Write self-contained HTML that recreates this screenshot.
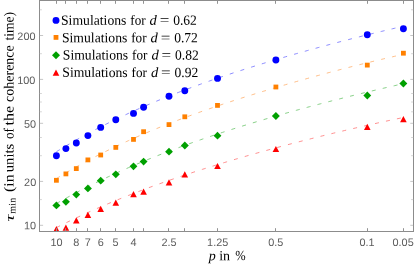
<!DOCTYPE html><html><head><title>Chart</title><meta charset="utf-8"><style>html,body{margin:0;padding:0;background:#fff}</style></head><body><svg width="415" height="267" viewBox="0 0 415 267" style="display:block;will-change:transform">
<rect width="415" height="267" fill="#fff"/>
<clipPath id="c"><rect x="39.5" y="0.5" width="374.0" height="231.0"/></clipPath>
<g clip-path="url(#c)">
<path d="M56.40 151.73 L58.58 150.39 L60.76 149.07 L62.95 147.75 L65.13 146.45 L67.31 145.17 L69.49 143.89 L71.68 142.63 L73.86 141.37 L76.04 140.13 L78.22 138.90 L80.41 137.68 L82.59 136.48 L84.77 135.28 L86.95 134.09 L89.14 132.92 L91.32 131.75 L93.50 130.60 L95.68 129.45 L97.87 128.32 L100.05 127.20 L102.23 126.08 L104.41 124.98 L106.59 123.88 L108.78 122.80 L110.96 121.72 L113.14 120.65 L115.32 119.59 L117.51 118.54 L119.69 117.50 L121.87 116.47 L124.05 115.45 L126.24 114.44 L128.42 113.43 L130.60 112.43 L132.78 111.44 L134.97 110.46 L137.15 109.49 L139.33 108.52 L141.51 107.56 L143.70 106.61 L145.88 105.67 L148.06 104.73 L150.24 103.80 L152.43 102.88 L154.61 101.97 L156.79 101.06 L158.97 100.16 L161.15 99.27 L163.34 98.38 L165.52 97.50 L167.70 96.62 L169.88 95.76 L172.07 94.89 L174.25 94.04 L176.43 93.19 L178.61 92.35 L180.80 91.51 L182.98 90.68 L185.16 89.85 L187.34 89.03 L189.53 88.22 L191.71 87.41 L193.89 86.60 L196.07 85.81 L198.26 85.01 L200.44 84.22 L202.62 83.44 L204.80 82.66 L206.98 81.89 L209.17 81.12 L211.35 80.36 L213.53 79.60 L215.71 78.85 L217.90 78.10 L220.08 77.35 L222.26 76.61 L224.44 75.87 L226.63 75.14 L228.81 74.41 L230.99 73.69 L233.17 72.97 L235.36 72.26 L237.54 71.54 L239.72 70.84 L241.90 70.13 L244.09 69.43 L246.27 68.74 L248.45 68.04 L250.63 67.36 L252.82 66.67 L255.00 65.99 L257.18 65.31 L259.36 64.64 L261.54 63.97 L263.73 63.30 L265.91 62.63 L268.09 61.97 L270.27 61.31 L272.46 60.66 L274.64 60.01 L276.82 59.36 L279.00 58.71 L281.19 58.07 L283.37 57.43 L285.55 56.79 L287.73 56.16 L289.92 55.53 L292.10 54.90 L294.28 54.27 L296.46 53.65 L298.65 53.03 L300.83 52.41 L303.01 51.80 L305.19 51.19 L307.37 50.58 L309.56 49.97 L311.74 49.37 L313.92 48.77 L316.10 48.17 L318.29 47.57 L320.47 46.98 L322.65 46.39 L324.83 45.80 L327.02 45.21 L329.20 44.63 L331.38 44.05 L333.56 43.47 L335.75 42.90 L337.93 42.32 L340.11 41.75 L342.29 41.18 L344.48 40.62 L346.66 40.05 L348.84 39.49 L351.02 38.93 L353.21 38.37 L355.39 37.82 L357.57 37.27 L359.75 36.72 L361.93 36.17 L364.12 35.63 L366.30 35.08 L368.48 34.55 L370.66 34.01 L372.85 33.47 L375.03 32.94 L377.21 32.41 L379.39 31.88 L381.58 31.36 L383.76 30.84 L385.94 30.32 L388.12 29.80 L390.31 29.29 L392.49 28.77 L394.67 28.26 L396.85 27.76 L399.04 27.25 L401.22 26.75 L403.40 26.25" fill="none" stroke="#5c5cff" stroke-width="0.7" stroke-dasharray="4 7.2"/>
<path d="M56.40 178.59 L58.58 177.26 L60.76 175.94 L62.95 174.63 L65.13 173.34 L67.31 172.05 L69.49 170.78 L71.68 169.53 L73.86 168.28 L76.04 167.05 L78.22 165.83 L80.41 164.62 L82.59 163.42 L84.77 162.24 L86.95 161.06 L89.14 159.90 L91.32 158.75 L93.50 157.60 L95.68 156.47 L97.87 155.35 L100.05 154.24 L102.23 153.14 L104.41 152.05 L106.59 150.97 L108.78 149.90 L110.96 148.83 L113.14 147.78 L115.32 146.74 L117.51 145.71 L119.69 144.68 L121.87 143.66 L124.05 142.66 L126.24 141.66 L128.42 140.67 L130.60 139.68 L132.78 138.71 L134.97 137.74 L137.15 136.79 L139.33 135.84 L141.51 134.89 L143.70 133.96 L145.88 133.03 L148.06 132.11 L150.24 131.20 L152.43 130.29 L154.61 129.39 L156.79 128.50 L158.97 127.61 L161.15 126.73 L163.34 125.86 L165.52 124.99 L167.70 124.13 L169.88 123.28 L172.07 122.43 L174.25 121.59 L176.43 120.76 L178.61 119.93 L180.80 119.10 L182.98 118.28 L185.16 117.47 L187.34 116.66 L189.53 115.86 L191.71 115.06 L193.89 114.27 L196.07 113.48 L198.26 112.70 L200.44 111.92 L202.62 111.15 L204.80 110.38 L206.98 109.62 L209.17 108.86 L211.35 108.11 L213.53 107.36 L215.71 106.61 L217.90 105.87 L220.08 105.13 L222.26 104.40 L224.44 103.67 L226.63 102.95 L228.81 102.23 L230.99 101.51 L233.17 100.79 L235.36 100.09 L237.54 99.38 L239.72 98.68 L241.90 97.98 L244.09 97.28 L246.27 96.59 L248.45 95.90 L250.63 95.22 L252.82 94.54 L255.00 93.86 L257.18 93.18 L259.36 92.51 L261.54 91.84 L263.73 91.18 L265.91 90.52 L268.09 89.86 L270.27 89.20 L272.46 88.55 L274.64 87.90 L276.82 87.25 L279.00 86.60 L281.19 85.96 L283.37 85.32 L285.55 84.69 L287.73 84.05 L289.92 83.42 L292.10 82.79 L294.28 82.17 L296.46 81.54 L298.65 80.92 L300.83 80.31 L303.01 79.69 L305.19 79.08 L307.37 78.47 L309.56 77.86 L311.74 77.26 L313.92 76.66 L316.10 76.06 L318.29 75.46 L320.47 74.87 L322.65 74.27 L324.83 73.69 L327.02 73.10 L329.20 72.52 L331.38 71.94 L333.56 71.36 L335.75 70.78 L337.93 70.21 L340.11 69.64 L342.29 69.07 L344.48 68.50 L346.66 67.94 L348.84 67.38 L351.02 66.82 L353.21 66.27 L355.39 65.72 L357.57 65.17 L359.75 64.62 L361.93 64.08 L364.12 63.54 L366.30 63.00 L368.48 62.47 L370.66 61.94 L372.85 61.41 L375.03 60.89 L377.21 60.36 L379.39 59.84 L381.58 59.33 L383.76 58.82 L385.94 58.31 L388.12 57.80 L390.31 57.30 L392.49 56.80 L394.67 56.30 L396.85 55.81 L399.04 55.32 L401.22 54.84 L403.40 54.35" fill="none" stroke="#ffa458" stroke-width="0.7" stroke-dasharray="4 7.2"/>
<path d="M56.40 203.55 L58.58 202.31 L60.76 201.09 L62.95 199.87 L65.13 198.67 L67.31 197.47 L69.49 196.29 L71.68 195.11 L73.86 193.95 L76.04 192.79 L78.22 191.65 L80.41 190.51 L82.59 189.38 L84.77 188.27 L86.95 187.16 L89.14 186.06 L91.32 184.97 L93.50 183.89 L95.68 182.82 L97.87 181.75 L100.05 180.70 L102.23 179.65 L104.41 178.61 L106.59 177.58 L108.78 176.56 L110.96 175.55 L113.14 174.54 L115.32 173.54 L117.51 172.55 L119.69 171.57 L121.87 170.59 L124.05 169.63 L126.24 168.67 L128.42 167.71 L130.60 166.77 L132.78 165.83 L134.97 164.90 L137.15 163.97 L139.33 163.06 L141.51 162.15 L143.70 161.24 L145.88 160.34 L148.06 159.45 L150.24 158.57 L152.43 157.69 L154.61 156.82 L156.79 155.95 L158.97 155.09 L161.15 154.24 L163.34 153.39 L165.52 152.55 L167.70 151.71 L169.88 150.88 L172.07 150.06 L174.25 149.24 L176.43 148.42 L178.61 147.61 L180.80 146.81 L182.98 146.01 L185.16 145.22 L187.34 144.43 L189.53 143.65 L191.71 142.87 L193.89 142.10 L196.07 141.33 L198.26 140.57 L200.44 139.81 L202.62 139.06 L204.80 138.31 L206.98 137.56 L209.17 136.82 L211.35 136.09 L213.53 135.35 L215.71 134.63 L217.90 133.90 L220.08 133.19 L222.26 132.47 L224.44 131.76 L226.63 131.05 L228.81 130.35 L230.99 129.65 L233.17 128.96 L235.36 128.27 L237.54 127.58 L239.72 126.90 L241.90 126.22 L244.09 125.54 L246.27 124.87 L248.45 124.20 L250.63 123.53 L252.82 122.87 L255.00 122.21 L257.18 121.55 L259.36 120.90 L261.54 120.25 L263.73 119.60 L265.91 118.96 L268.09 118.32 L270.27 117.68 L272.46 117.05 L274.64 116.42 L276.82 115.79 L279.00 115.17 L281.19 114.54 L283.37 113.93 L285.55 113.31 L287.73 112.70 L289.92 112.08 L292.10 111.48 L294.28 110.87 L296.46 110.27 L298.65 109.67 L300.83 109.07 L303.01 108.48 L305.19 107.88 L307.37 107.30 L309.56 106.71 L311.74 106.12 L313.92 105.54 L316.10 104.96 L318.29 104.39 L320.47 103.81 L322.65 103.24 L324.83 102.67 L327.02 102.10 L329.20 101.54 L331.38 100.97 L333.56 100.41 L335.75 99.86 L337.93 99.30 L340.11 98.75 L342.29 98.20 L344.48 97.65 L346.66 97.10 L348.84 96.56 L351.02 96.01 L353.21 95.47 L355.39 94.94 L357.57 94.40 L359.75 93.87 L361.93 93.34 L364.12 92.81 L366.30 92.28 L368.48 91.76 L370.66 91.24 L372.85 90.72 L375.03 90.20 L377.21 89.69 L379.39 89.17 L381.58 88.66 L383.76 88.16 L385.94 87.65 L388.12 87.15 L390.31 86.64 L392.49 86.15 L394.67 85.65 L396.85 85.15 L399.04 84.66 L401.22 84.17 L403.40 83.69" fill="none" stroke="#55bb55" stroke-width="0.7" stroke-dasharray="4 7.2"/>
<path d="M56.40 227.59 L58.58 226.49 L60.76 225.40 L62.95 224.32 L65.13 223.24 L67.31 222.18 L69.49 221.12 L71.68 220.07 L73.86 219.03 L76.04 218.00 L78.22 216.98 L80.41 215.96 L82.59 214.95 L84.77 213.95 L86.95 212.96 L89.14 211.98 L91.32 211.00 L93.50 210.03 L95.68 209.07 L97.87 208.11 L100.05 207.17 L102.23 206.23 L104.41 205.29 L106.59 204.37 L108.78 203.45 L110.96 202.53 L113.14 201.63 L115.32 200.73 L117.51 199.83 L119.69 198.95 L121.87 198.07 L124.05 197.19 L126.24 196.32 L128.42 195.46 L130.60 194.61 L132.78 193.76 L134.97 192.91 L137.15 192.07 L139.33 191.24 L141.51 190.41 L143.70 189.59 L145.88 188.78 L148.06 187.96 L150.24 187.16 L152.43 186.36 L154.61 185.57 L156.79 184.78 L158.97 183.99 L161.15 183.21 L163.34 182.44 L165.52 181.67 L167.70 180.90 L169.88 180.14 L172.07 179.39 L174.25 178.64 L176.43 177.89 L178.61 177.15 L180.80 176.41 L182.98 175.68 L185.16 174.95 L187.34 174.23 L189.53 173.51 L191.71 172.79 L193.89 172.08 L196.07 171.37 L198.26 170.67 L200.44 169.97 L202.62 169.27 L204.80 168.58 L206.98 167.89 L209.17 167.21 L211.35 166.53 L213.53 165.85 L215.71 165.18 L217.90 164.51 L220.08 163.84 L222.26 163.18 L224.44 162.52 L226.63 161.86 L228.81 161.21 L230.99 160.56 L233.17 159.91 L235.36 159.27 L237.54 158.63 L239.72 157.99 L241.90 157.36 L244.09 156.73 L246.27 156.10 L248.45 155.48 L250.63 154.86 L252.82 154.24 L255.00 153.62 L257.18 153.01 L259.36 152.40 L261.54 151.79 L263.73 151.19 L265.91 150.59 L268.09 149.99 L270.27 149.39 L272.46 148.80 L274.64 148.21 L276.82 147.62 L279.00 147.03 L281.19 146.45 L283.37 145.87 L285.55 145.29 L287.73 144.71 L289.92 144.14 L292.10 143.57 L294.28 143.00 L296.46 142.43 L298.65 141.87 L300.83 141.31 L303.01 140.75 L305.19 140.19 L307.37 139.64 L309.56 139.09 L311.74 138.54 L313.92 137.99 L316.10 137.45 L318.29 136.90 L320.47 136.36 L322.65 135.82 L324.83 135.29 L327.02 134.75 L329.20 134.22 L331.38 133.69 L333.56 133.17 L335.75 132.64 L337.93 132.12 L340.11 131.60 L342.29 131.08 L344.48 130.57 L346.66 130.05 L348.84 129.54 L351.02 129.03 L353.21 128.52 L355.39 128.02 L357.57 127.52 L359.75 127.02 L361.93 126.52 L364.12 126.02 L366.30 125.53 L368.48 125.04 L370.66 124.55 L372.85 124.06 L375.03 123.58 L377.21 123.10 L379.39 122.62 L381.58 122.14 L383.76 121.66 L385.94 121.19 L388.12 120.72 L390.31 120.25 L392.49 119.79 L394.67 119.33 L396.85 118.86 L399.04 118.41 L401.22 117.95 L403.40 117.50" fill="none" stroke="#ff6060" stroke-width="0.7" stroke-dasharray="4 7.2"/>
<circle cx="56.4" cy="155.8" r="3.45" fill="#0000ff"/>
<circle cx="65.9" cy="148.6" r="3.45" fill="#0000ff"/>
<circle cx="76.3" cy="143.0" r="3.45" fill="#0000ff"/>
<circle cx="87.9" cy="135.6" r="3.45" fill="#0000ff"/>
<circle cx="100.7" cy="127.4" r="3.45" fill="#0000ff"/>
<circle cx="115.8" cy="119.7" r="3.45" fill="#0000ff"/>
<circle cx="133.5" cy="113.4" r="3.45" fill="#0000ff"/>
<circle cx="143.6" cy="107.3" r="3.45" fill="#0000ff"/>
<circle cx="169.0" cy="96.2" r="3.45" fill="#0000ff"/>
<circle cx="184.8" cy="90.7" r="3.45" fill="#0000ff"/>
<circle cx="217.5" cy="78.4" r="3.45" fill="#0000ff"/>
<circle cx="275.9" cy="60.0" r="3.45" fill="#0000ff"/>
<circle cx="367.3" cy="34.7" r="3.45" fill="#0000ff"/>
<circle cx="403.4" cy="28.7" r="3.45" fill="#0000ff"/>
<rect x="54.0" y="177.9" width="4.8" height="4.8" fill="#ff8000"/>
<rect x="63.5" y="171.5" width="4.8" height="4.8" fill="#ff8000"/>
<rect x="73.9" y="166.2" width="4.8" height="4.8" fill="#ff8000"/>
<rect x="85.5" y="157.5" width="4.8" height="4.8" fill="#ff8000"/>
<rect x="98.3" y="152.6" width="4.8" height="4.8" fill="#ff8000"/>
<rect x="113.4" y="145.0" width="4.8" height="4.8" fill="#ff8000"/>
<rect x="131.1" y="137.0" width="4.8" height="4.8" fill="#ff8000"/>
<rect x="141.2" y="129.3" width="4.8" height="4.8" fill="#ff8000"/>
<rect x="166.6" y="122.2" width="4.8" height="4.8" fill="#ff8000"/>
<rect x="182.4" y="114.4" width="4.8" height="4.8" fill="#ff8000"/>
<rect x="215.1" y="103.0" width="4.8" height="4.8" fill="#ff8000"/>
<rect x="273.5" y="84.6" width="4.8" height="4.8" fill="#ff8000"/>
<rect x="364.9" y="62.7" width="4.8" height="4.8" fill="#ff8000"/>
<rect x="401.0" y="50.8" width="4.8" height="4.8" fill="#ff8000"/>
<path d="M52.4 205.4L56.4 201.5L60.4 205.4L56.4 209.3Z" fill="#00a000"/>
<path d="M62.0 201.8L65.9 197.9L69.9 201.8L65.9 205.8Z" fill="#00a000"/>
<path d="M72.3 194.6L76.3 190.7L80.2 194.6L76.3 198.5Z" fill="#00a000"/>
<path d="M84.0 188.4L87.9 184.5L91.9 188.4L87.9 192.3Z" fill="#00a000"/>
<path d="M96.8 180.7L100.7 176.8L104.7 180.7L100.7 184.6Z" fill="#00a000"/>
<path d="M111.8 174.3L115.8 170.4L119.8 174.3L115.8 178.2Z" fill="#00a000"/>
<path d="M129.6 166.3L133.5 162.4L137.4 166.3L133.5 170.2Z" fill="#00a000"/>
<path d="M139.7 161.6L143.6 157.7L147.5 161.6L143.6 165.5Z" fill="#00a000"/>
<path d="M165.1 151.7L169.0 147.8L172.9 151.7L169.0 155.6Z" fill="#00a000"/>
<path d="M180.9 145.5L184.8 141.6L188.8 145.5L184.8 149.4Z" fill="#00a000"/>
<path d="M213.6 135.7L217.5 131.8L221.4 135.7L217.5 139.6Z" fill="#00a000"/>
<path d="M271.9 116.0L275.9 112.0L279.8 116.0L275.9 120.0Z" fill="#00a000"/>
<path d="M363.4 95.4L367.3 91.5L371.2 95.4L367.3 99.4Z" fill="#00a000"/>
<path d="M399.4 83.6L403.4 79.6L407.3 83.6L403.4 87.5Z" fill="#00a000"/>
<path d="M53.1 232.2L56.4 226.0L59.7 232.2Z" fill="#ff0000"/>
<path d="M62.6 230.7L65.9 224.5L69.2 230.7Z" fill="#ff0000"/>
<path d="M73.0 223.4L76.3 217.2L79.6 223.4Z" fill="#ff0000"/>
<path d="M84.6 217.9L87.9 211.7L91.2 217.9Z" fill="#ff0000"/>
<path d="M97.4 212.0L100.7 205.8L104.0 212.0Z" fill="#ff0000"/>
<path d="M112.5 205.7L115.8 199.5L119.1 205.7Z" fill="#ff0000"/>
<path d="M130.2 197.3L133.5 191.1L136.8 197.3Z" fill="#ff0000"/>
<path d="M140.3 194.8L143.6 188.6L146.9 194.8Z" fill="#ff0000"/>
<path d="M165.7 185.5L169.0 179.3L172.3 185.5Z" fill="#ff0000"/>
<path d="M181.5 177.4L184.8 171.2L188.1 177.4Z" fill="#ff0000"/>
<path d="M214.2 169.1L217.5 162.9L220.8 169.1Z" fill="#ff0000"/>
<path d="M272.6 152.1L275.9 145.9L279.2 152.1Z" fill="#ff0000"/>
<path d="M364.0 130.0L367.3 123.8L370.6 130.0Z" fill="#ff0000"/>
<path d="M400.1 122.3L403.4 116.1L406.7 122.3Z" fill="#ff0000"/>
</g>
<rect x="39.5" y="0.5" width="374.0" height="231.0" fill="none" stroke="#8c8c8c" stroke-width="1"/>
<path d="M56.5 231.5v-3.3M56.5 0.5v3.3M65.5 231.5v-3.3M65.5 0.5v3.3M76.5 231.5v-3.3M76.5 0.5v3.3M87.5 231.5v-3.3M87.5 0.5v3.3M100.5 231.5v-3.3M100.5 0.5v3.3M115.5 231.5v-3.3M115.5 0.5v3.3M133.5 231.5v-3.3M133.5 0.5v3.3M143.5 231.5v-3.3M143.5 0.5v3.3M168.5 231.5v-3.3M168.5 0.5v3.3M184.5 231.5v-3.3M184.5 0.5v3.3M217.5 231.5v-3.3M217.5 0.5v3.3M275.5 231.5v-3.3M275.5 0.5v3.3M367.5 231.5v-3.3M367.5 0.5v3.3M403.5 231.5v-3.3M403.5 0.5v3.3" stroke="#929292" stroke-width="1" fill="none"/>
<path d="M39.5 225.3h3.6M413.5 225.3h-3.2M39.5 181.4h3.6M413.5 181.4h-3.2M39.5 123.3h3.6M413.5 123.3h-3.2M39.5 79.4h3.6M413.5 79.4h-3.2M39.5 35.5h3.6M413.5 35.5h-3.2" stroke="#a0a0a0" stroke-width="0.6" fill="none"/>
<path d="M39.5 199.6h2.4M413.5 199.6h-2.4M39.5 155.7h2.4M413.5 155.7h-2.4M39.5 137.5h2.4M413.5 137.5h-2.4M39.5 111.8h2.4M413.5 111.8h-2.4M39.5 102.0h2.4M413.5 102.0h-2.4M39.5 93.5h2.4M413.5 93.5h-2.4M39.5 53.7h2.4M413.5 53.7h-2.4M39.5 9.8h2.4M413.5 9.8h-2.4" stroke="#b4b4b4" stroke-width="0.55" fill="none"/>
<g font-family="Liberation Sans, sans-serif" font-size="10.9" fill="#5c5c5c">
<text transform="translate(56.6 246.1) rotate(0.04)" text-anchor="middle">10</text>
<text transform="translate(76.4 246.1) rotate(0.04)" text-anchor="middle">8</text>
<text transform="translate(87.7 246.1) rotate(0.04)" text-anchor="middle">7</text>
<text transform="translate(100.8 246.1) rotate(0.04)" text-anchor="middle">6</text>
<text transform="translate(115.6 246.1) rotate(0.04)" text-anchor="middle">5</text>
<text transform="translate(133.5 246.1) rotate(0.04)" text-anchor="middle">4</text>
<text transform="translate(169.1 246.1) rotate(0.04)" text-anchor="middle">2.5</text>
<text transform="translate(217.7 246.1) rotate(0.04)" text-anchor="middle">1.25</text>
<text transform="translate(275.7 246.1) rotate(0.04)" text-anchor="middle">0.5</text>
<text transform="translate(367.0 246.1) rotate(0.04)" text-anchor="middle">0.1</text>
<text transform="translate(403.1 246.1) rotate(0.04)" text-anchor="middle">0.05</text>
<text transform="translate(36.1 229.2) rotate(0.04)" text-anchor="end">10</text>
<text transform="translate(36.2 186.0) rotate(0.04)" text-anchor="end">20</text>
<text transform="translate(36.1 127.8) rotate(0.04)" text-anchor="end">50</text>
<text transform="translate(35.4 84.0) rotate(0.04)" text-anchor="end">100</text>
<text transform="translate(35.5 40.1) rotate(0.04)" text-anchor="end">200</text>
</g>
<g font-family="Liberation Serif, serif" font-size="14" fill="#000">
<circle cx="56.0" cy="20.4" r="3.45" fill="#0000ff"/>
<text y="24.8" transform="rotate(0.03 130 24.8)"><tspan x="61.00" textLength="65.4" lengthAdjust="spacingAndGlyphs">Simulations</tspan><tspan x="130.30" textLength="15.3" lengthAdjust="spacingAndGlyphs">for</tspan><tspan x="149.60" font-style="italic" textLength="7.3" lengthAdjust="spacingAndGlyphs">d</tspan><tspan x="159.80" textLength="9.6" lengthAdjust="spacingAndGlyphs">=</tspan><tspan x="173.20" textLength="23.7" lengthAdjust="spacingAndGlyphs">0.62</tspan></text>
<rect x="53.6" y="35.0" width="4.8" height="4.8" fill="#ff8000"/>
<text y="42.2" transform="rotate(0.03 130 42.2)"><tspan x="61.95" textLength="65.4" lengthAdjust="spacingAndGlyphs">Simulations</tspan><tspan x="131.25" textLength="15.3" lengthAdjust="spacingAndGlyphs">for</tspan><tspan x="150.55" font-style="italic" textLength="7.3" lengthAdjust="spacingAndGlyphs">d</tspan><tspan x="160.75" textLength="9.6" lengthAdjust="spacingAndGlyphs">=</tspan><tspan x="174.15" textLength="23.7" lengthAdjust="spacingAndGlyphs">0.72</tspan></text>
<path d="M52.0 55.2L56.0 51.2L60.0 55.2L56.0 59.2Z" fill="#00a000"/>
<text y="59.6" transform="rotate(0.03 130 59.6)"><tspan x="62.80" textLength="65.4" lengthAdjust="spacingAndGlyphs">Simulations</tspan><tspan x="132.10" textLength="15.3" lengthAdjust="spacingAndGlyphs">for</tspan><tspan x="151.40" font-style="italic" textLength="7.3" lengthAdjust="spacingAndGlyphs">d</tspan><tspan x="161.60" textLength="9.6" lengthAdjust="spacingAndGlyphs">=</tspan><tspan x="175.00" textLength="23.7" lengthAdjust="spacingAndGlyphs">0.82</tspan></text>
<path d="M52.7 75.8L56.0 69.6L59.3 75.8Z" fill="#ff0000"/>
<text y="76.9" transform="rotate(0.03 130 76.9)"><tspan x="62.30" textLength="65.4" lengthAdjust="spacingAndGlyphs">Simulations</tspan><tspan x="131.60" textLength="15.3" lengthAdjust="spacingAndGlyphs">for</tspan><tspan x="150.90" font-style="italic" textLength="7.3" lengthAdjust="spacingAndGlyphs">d</tspan><tspan x="161.10" textLength="9.6" lengthAdjust="spacingAndGlyphs">=</tspan><tspan x="174.50" textLength="23.7" lengthAdjust="spacingAndGlyphs">0.92</tspan></text>
</g>
<g font-family="Liberation Serif, serif" font-size="14" fill="#000">
<text y="260.3" transform="rotate(0.03 227 260)"><tspan x="208.7" font-style="italic">p</tspan><tspan x="219.2" textLength="10.9" lengthAdjust="spacingAndGlyphs">in</tspan><tspan x="235.3" textLength="10.4" lengthAdjust="spacingAndGlyphs">%</tspan></text>
<g transform="translate(13.5 221.6) rotate(-90.03)">
<text x="0.2" y="0.2" font-style="italic" font-size="12.5" textLength="7.0" lengthAdjust="spacingAndGlyphs">τ</text>
<text x="7.9" y="1.9" font-size="10" textLength="15.9" lengthAdjust="spacing">min</text>
<text y="0"><tspan x="29.7" textLength="17.4" lengthAdjust="spacingAndGlyphs">(in</tspan><tspan x="49.4" textLength="28.4" lengthAdjust="spacingAndGlyphs">units</tspan><tspan x="82.5" textLength="11.0" lengthAdjust="spacingAndGlyphs">of</tspan><tspan x="96.1" textLength="19.6" lengthAdjust="spacingAndGlyphs">the</tspan><tspan x="119.7" textLength="56.7" lengthAdjust="spacingAndGlyphs">coherence</tspan><tspan x="181.2" textLength="28.5" lengthAdjust="spacingAndGlyphs">time)</tspan></text>
</g>
</g>
</svg></body></html>
